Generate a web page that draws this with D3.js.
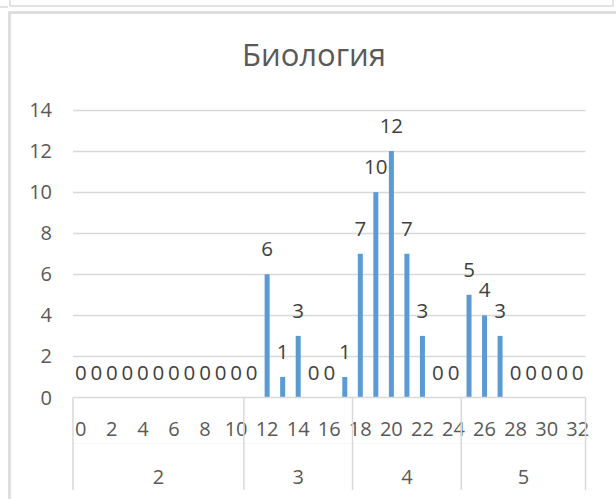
<!DOCTYPE html>
<html>
<head>
<meta charset="utf-8">
<script src="https://cdn.jsdelivr.net/npm/d3@7"></script>
<style>
  html, body { margin: 0; padding: 0; background: #fff; }
  svg { display: block; }
  text { font-family: "Open Sans", "Noto Sans", sans-serif; fill: #595959; }
</style>
</head>
<body>
<svg id="chart" width="616" height="499"></svg>
<script>
const title = "Биология";
const categories = [0,1,2,3,4,5,6,7,8,9,10,11,12,13,14,15,16,17,18,19,20,21,22,23,24,25,26,27,28,29,30,31,32];
const values =     [0,0,0,0,0,0,0,0,0,0,0, 0, 6, 1, 3, 0, 0, 1, 7,10,12, 7, 3, 0, 0, 5, 4, 3, 0, 0, 0, 0, 0];
const groupLabels = ["2", "3", "4", "5"];
const groupSizes = [11, 7, 7, 8];
const yTicks = [0, 2, 4, 6, 8, 10, 12, 14];

const svg = d3.select("#chart");
const left = 73, right = 585.5, y0 = 397.5, yTop = 110;
const grid = "#D9D9D9";

// outer frame pieces
svg.append("path").attr("d", "M0,7H8").attr("stroke", "#E3E3E3").attr("stroke-width", 2).attr("fill", "none");
svg.append("path").attr("d", "M10,0V6H613V0").attr("stroke", "#E3E3E3").attr("stroke-width", 2).attr("fill", "none");
svg.append("path").attr("d", "M9.5,499V12.5H616").attr("stroke", grid).attr("stroke-width", 2.5).attr("fill", "none");

const x = d3.scaleBand().domain(categories).range([left, right]).paddingInner(0).paddingOuter(0);
const y = d3.scaleLinear().domain([0, 14]).range([y0, yTop]);

// title
svg.append("text").attr("x", 314).attr("y", 66).attr("text-anchor", "middle")
  .style("font-size", "31px").text(title);

// gridlines
svg.append("g").selectAll("line").data(yTicks.filter(d => d > 0)).join("line")
  .attr("x1", left).attr("x2", right)
  .attr("y1", d => Math.round(y(d)) + 0.5).attr("y2", d => Math.round(y(d)) + 0.5)
  .attr("stroke", grid).attr("stroke-width", 1.5);

// y labels
svg.append("g").selectAll("text").data(yTicks).join("text")
  .attr("x", 52).attr("y", d => y(d)).attr("dy", "0.35em").attr("text-anchor", "end")
  .style("font-size", "20px").text(d => d);

// bars
svg.append("g").selectAll("rect").data(categories).join("rect")
  .attr("x", (d) => x(d) + x.bandwidth() / 2 - 2.5)
  .attr("width", 5)
  .attr("y", (d, i) => y(values[i]))
  .attr("height", (d, i) => y0 - y(values[i]))
  .attr("fill", "#5B9BD5");

// data labels
svg.append("g").selectAll("text").data(categories).join("text")
  .attr("x", d => x(d) + x.bandwidth() / 2)
  .attr("y", (d, i) => y(values[i]) - 18)
  .attr("text-anchor", "middle")
  .style("font-size", "20.5px")
  .style("fill", "#404040")
  .text((d, i) => values[i]);

// axis line
svg.append("line").attr("x1", left).attr("x2", right).attr("y1", y0).attr("y2", y0)
  .attr("stroke", grid).attr("stroke-width", 1.5);

// faint separator between label rows
svg.append("line").attr("x1", left).attr("x2", right).attr("y1", 443.5).attr("y2", 443.5)
  .attr("stroke", "#F8F8F8").attr("stroke-width", 1);

// category labels (every other)
svg.append("g").selectAll("text").data(categories.filter(d => d % 2 === 0)).join("text")
  .attr("x", d => x(d) + x.bandwidth() / 2)
  .attr("y", 436)
  .attr("text-anchor", "middle")
  .style("font-size", "20px")
  .text(d => d);

// group separators and labels
let start = 0;
const bounds = [0];
groupSizes.forEach(s => { start += s; bounds.push(start); });
svg.append("g").selectAll("line").data(bounds).join("line")
  .attr("x1", (b) => b < categories.length ? x(categories[b]) : right)
  .attr("x2", (b) => b < categories.length ? x(categories[b]) : right)
  .attr("y1", y0).attr("y2", 490)
  .attr("stroke", grid).attr("stroke-width", 1.5);

svg.append("g").selectAll("text").data(groupLabels).join("text")
  .attr("x", (d, i) => {
    const a = x(categories[bounds[i]]);
    const b = bounds[i + 1] < categories.length ? x(categories[bounds[i + 1]]) : right;
    return (a + b) / 2;
  })
  .attr("y", 484)
  .attr("text-anchor", "middle")
  .style("font-size", "20px")
  .text(d => d);
</script>
</body>
</html>
